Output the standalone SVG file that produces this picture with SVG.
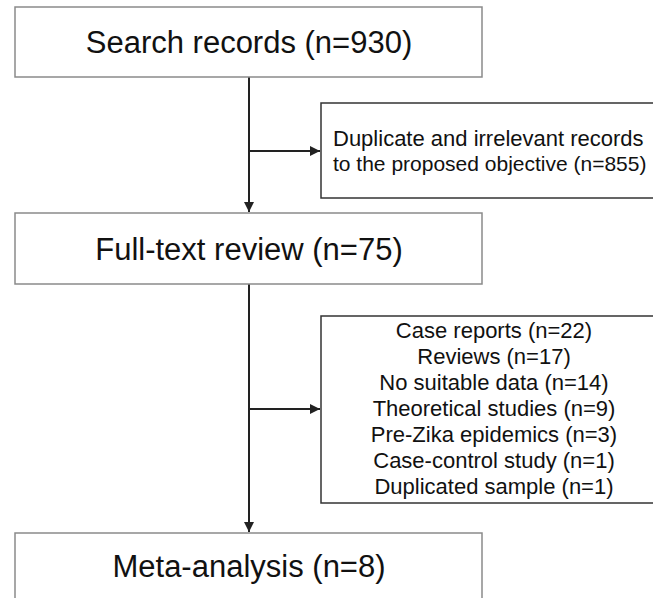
<svg xmlns="http://www.w3.org/2000/svg" width="653" height="598" viewBox="0 0 653 598">
<style>
.box{fill:#fff;stroke:#8a8a8a;stroke-width:1.5}
.side{fill:#fff;stroke:#333;stroke-width:1.5}
.big{font-family:"Liberation Sans",Arial,sans-serif;font-size:31px;fill:#111;text-anchor:middle}
.small{font-family:"Liberation Sans",Arial,sans-serif;font-size:22px;fill:#111}
.list{text-anchor:middle}
.conn{stroke:#222;stroke-width:2;fill:none}
</style>
<defs>
<marker id="ah" viewBox="0 0 10 10" refX="10" refY="5" markerWidth="5" markerHeight="5" orient="auto" markerUnits="strokeWidth">
<path d="M0,0 L10,5 L0,10 z" fill="#222"/>
</marker>
</defs>
<rect width="653" height="598" fill="#fff"/>
<g id="connectors">
<line class="conn" x1="249" y1="77" x2="249" y2="212" marker-end="url(#ah)"/>
<line class="conn" x1="249" y1="151" x2="320" y2="151" marker-end="url(#ah)"/>
<line class="conn" x1="249" y1="284" x2="249" y2="532" marker-end="url(#ah)"/>
<line class="conn" x1="249" y1="409" x2="320" y2="409" marker-end="url(#ah)"/>
</g>
<g id="search">
<rect class="box" x="15" y="7" width="467" height="70"/>
<text class="big" x="249" y="53">Search records (n=930)</text>
</g>
<g id="duplicates">
<rect class="side" x="321" y="103" width="340" height="95"/>
<text class="small" x="333" y="146">Duplicate and irrelevant records</text>
<text class="small" x="333" y="171" style="font-size:21px">to the proposed objective (n=855)</text>
</g>
<g id="fulltext">
<rect class="box" x="15" y="213" width="467" height="71"/>
<text class="big" x="249" y="260">Full-text review (n=75)</text>
</g>
<g id="excluded">
<rect class="side" x="321" y="316" width="340" height="187"/>
<text class="small list" x="494" y="338">Case reports (n=22)</text>
<text class="small list" x="494" y="364">Reviews (n=17)</text>
<text class="small list" x="494" y="390">No suitable data  (n=14)</text>
<text class="small list" x="494" y="416">Theoretical studies (n=9)</text>
<text class="small list" x="494" y="442">Pre-Zika epidemics (n=3)</text>
<text class="small list" x="494" y="468">Case-control study (n=1)</text>
<text class="small list" x="494" y="494">Duplicated sample (n=1)</text>
</g>
<g id="meta">
<rect class="box" x="15" y="533" width="467" height="80"/>
<text class="big" x="249" y="577">Meta-analysis (n=8)</text>
</g>
</svg>
